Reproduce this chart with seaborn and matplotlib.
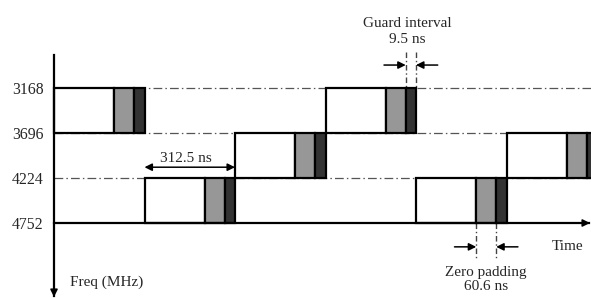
import matplotlib
matplotlib.use("Agg")
import matplotlib.pyplot as plt
import seaborn as sns
import pandas as pd

# ---- data ----
freq_labels = ["3168", "3696", "4224", "4752"]      # frequency levels (MHz), top to bottom
hop_band = [0, 2, 1, 0, 2, 1]                         # band (upper edge level) of each symbol
period_ns = 312.5                                     # symbol period
segment_names = ["body", "zero_pad", "guard"]
segment_widths = [208.0, 69.0, 35.5]                  # drawn widths (ns-equivalent)
segment_colors = ["#ffffff", "#979797", "#333333"]
guard_symbol = 3                                      # symbol used for guard-interval annotation
zp_symbol = 4                                         # symbol used for zero-padding annotation
period_symbol = 1                                     # symbol used for period annotation

sns.set_theme(style="white")
plt.rcParams["font.family"] = ["Liberation Serif", "DejaVu Serif"]
FS = 11

rows = []
for k, band in enumerate(hop_band):
    start = k * period_ns
    for name, w, c in zip(segment_names, segment_widths, segment_colors):
        rows.append(dict(symbol=k, band=band, seg=name, left=start, width=w, color=c))
        start += w
df = pd.DataFrame(rows)

fig = plt.figure(figsize=(5.91, 2.98), dpi=100)
ax = fig.add_axes([0, 0, 1, 1])
px = 0.2896  # pixels per ns
ax.set_xlim(-54 / px, 537 / px)
ax.set_ylim(210 / 45, -88 / 45)
ax.set_facecolor("white")

t_end = 536 / px
# dash-dot grid lines at upper levels
for lvl in range(len(freq_labels) - 1):
    ax.plot([0, t_end + 10], [lvl, lvl], color="#555555", lw=0.9,
            linestyle=(0, (7, 2.5, 1.2, 2.5)), zorder=1)

# bars
for _, r in df.iterrows():
    ax.bar(r["left"], 1, width=r["width"], bottom=r["band"], align="edge",
           color=r["color"], edgecolor="black", linewidth=1.6, zorder=3)

# axes lines
ax.spines[["top", "right"]].set_visible(False)
ax.spines["left"].set_position(("data", 0))
ax.spines["left"].set_bounds(-33 / 45, 4.62)
ax.spines["bottom"].set_position(("data", 3))
ax.spines["bottom"].set_bounds(0, t_end - 5)
for s in ["left", "bottom"]:
    ax.spines[s].set_color("black")
    ax.spines[s].set_linewidth(1.6)
    ax.spines[s].set_zorder(4)
ax.set_xticks([])
ax.set_yticks(range(len(freq_labels)))
ax.set_yticklabels(freq_labels, fontsize=FS + 0.3)
ax.tick_params(axis="y", length=0, pad=7.5)

arrow = dict(arrowstyle="-|>", color="black", lw=1.1, mutation_scale=11,
             shrinkA=0, shrinkB=0)
# axis arrowheads
ax.annotate("", xy=(t_end, 3), xytext=(t_end - 25, 3), arrowprops=arrow, zorder=5)
ax.annotate("", xy=(0, 209 / 45), xytext=(0, 4.4), arrowprops=arrow, zorder=5)

# period annotation
p0 = period_symbol * period_ns
ax.annotate("", xy=(p0, 1.76), xytext=(p0 + period_ns, 1.76),
            arrowprops=dict(arrowstyle="<|-|>", color="black", lw=1.1,
                            mutation_scale=11, shrinkA=0, shrinkB=0))
ax.text(p0 + period_ns / 2 - 15, 1.56, f"{period_ns} ns", ha="center", va="center",
        fontsize=FS)

# guard interval annotation
g_a = guard_symbol * period_ns + segment_widths[0] + segment_widths[1]
g_b = g_a + segment_widths[2]
for x in (g_a, g_b):
    ax.plot([x, x], [-0.8, 0], color="#444444", lw=1,
            linestyle=(0, (4, 2, 1, 2)), zorder=2)
ax.annotate("", xy=(g_a, -0.51), xytext=(g_a - 75, -0.51), arrowprops=arrow)
ax.annotate("", xy=(g_b, -0.51), xytext=(g_b + 75, -0.51), arrowprops=arrow)
ax.text((g_a + g_b) / 2 - 12, -1.44, "Guard interval", ha="center", va="center",
        fontsize=FS)
ax.text((g_a + g_b) / 2 - 12, -1.07, "9.5 ns", ha="center", va="center",
        fontsize=FS)

# zero padding annotation
z_a = zp_symbol * period_ns + segment_widths[0]
z_b = z_a + segment_widths[1]
for x in (z_a, z_b):
    ax.plot([x, x], [3, 3.78], color="#444444", lw=1,
            linestyle=(0, (4, 2, 1, 2)), zorder=2)
ax.annotate("", xy=(z_a, 3.53), xytext=(z_a - 75, 3.53), arrowprops=arrow)
ax.annotate("", xy=(z_b, 3.53), xytext=(z_b + 75, 3.53), arrowprops=arrow)
ax.text((z_a + z_b) / 2, 4.09, "Zero padding", ha="center", va="center", fontsize=FS)
ax.text((z_a + z_b) / 2, 4.42, "60.6 ns", ha="center", va="center", fontsize=FS)

ax.text(1775, 3.53, "Time", ha="center", va="center", fontsize=FS)
ax.text(55, 4.31, "Freq (MHz)", ha="left", va="center", fontsize=FS)

fig.savefig("out.png", dpi=100, facecolor="white")
